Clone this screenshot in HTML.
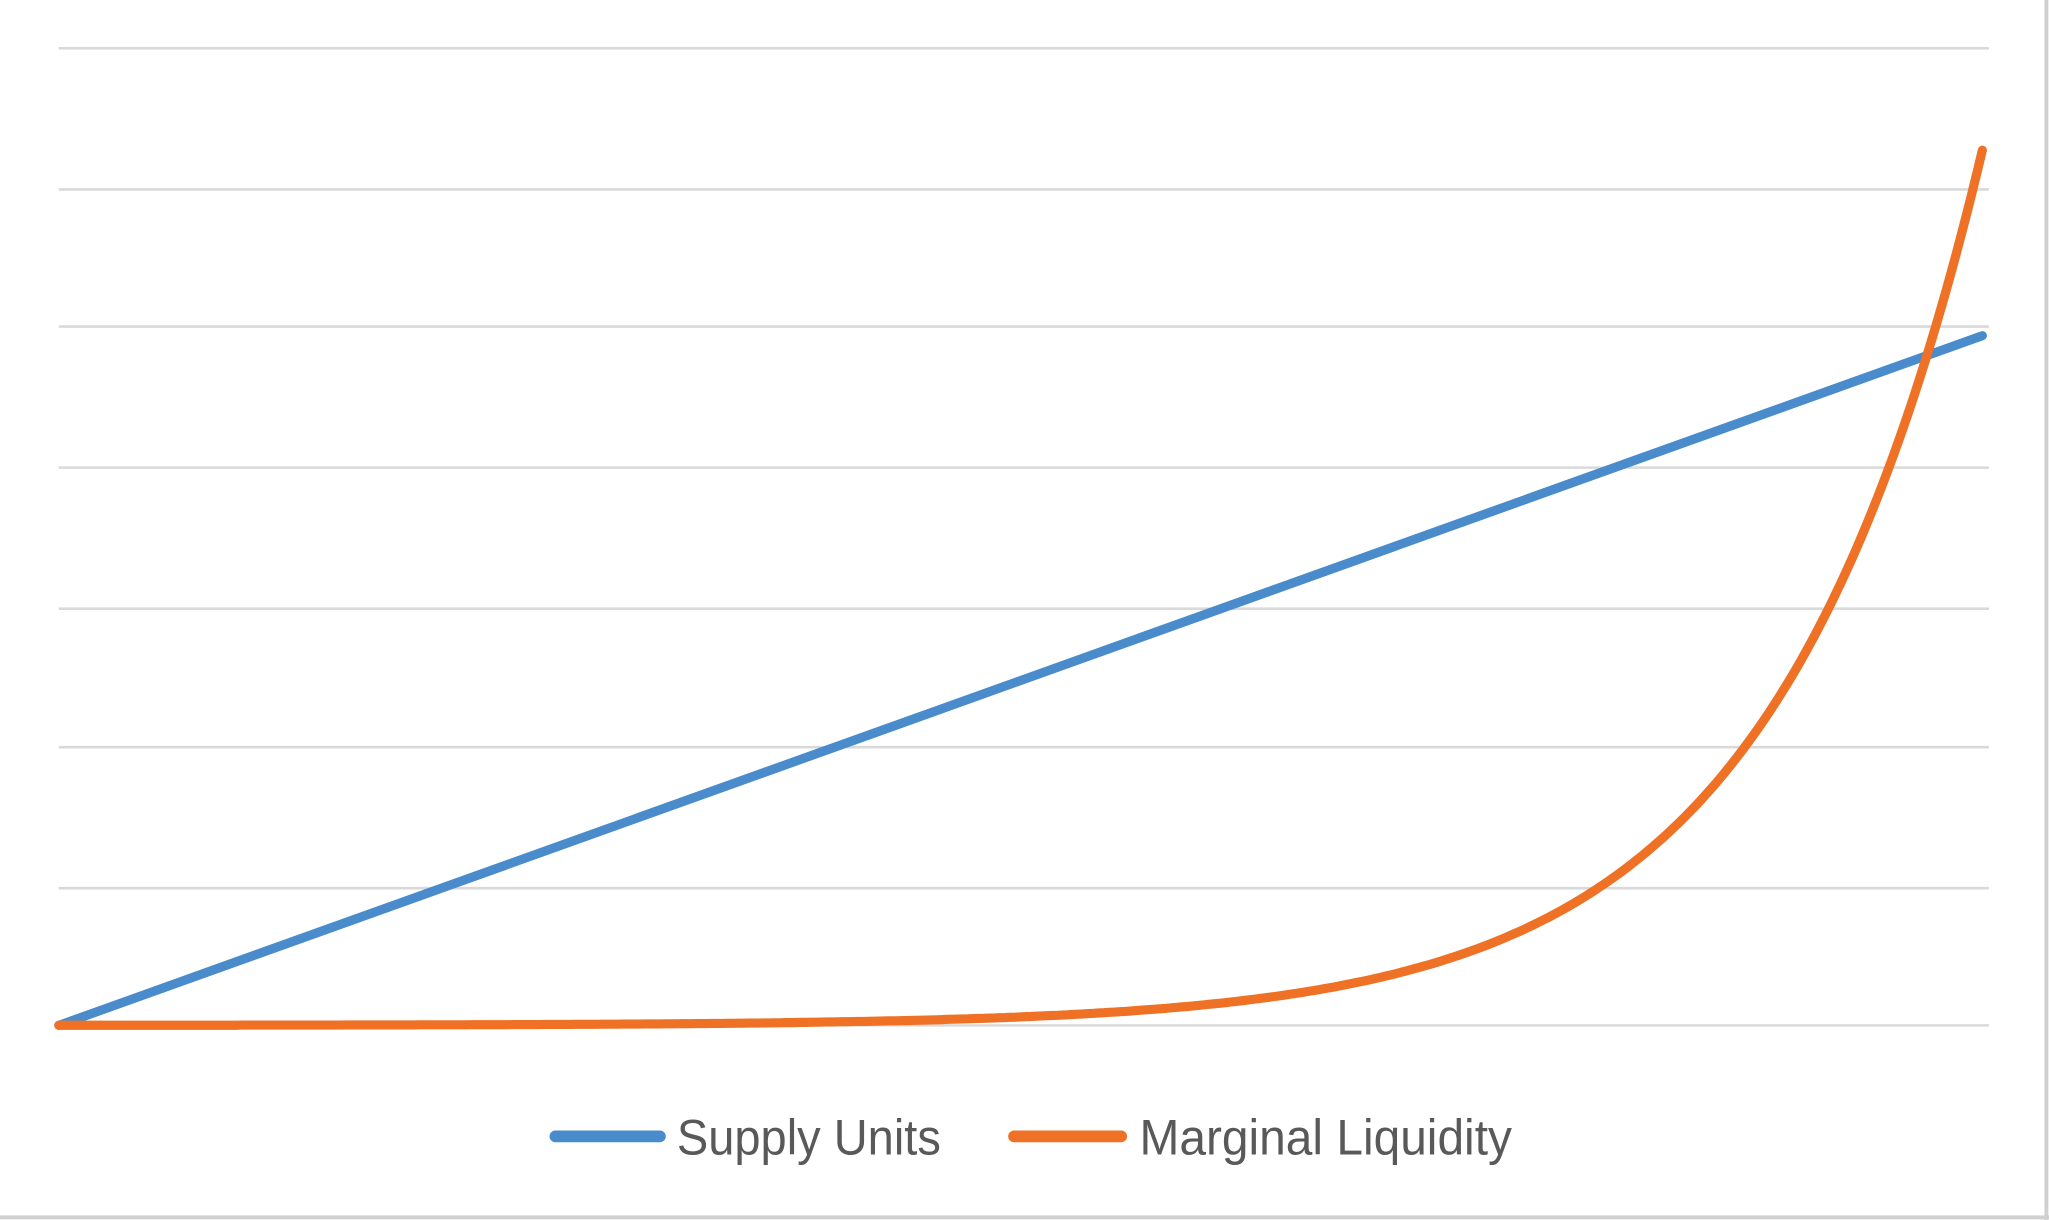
<!DOCTYPE html>
<html><head><meta charset="utf-8"><style>
html,body{margin:0;padding:0;background:#fff;}
svg{display:block;}
</style></head><body>
<svg width="2049" height="1220" viewBox="0 0 1568 934" preserveAspectRatio="none" xmlns="http://www.w3.org/2000/svg">
<rect x="0" y="0" width="1568" height="934" fill="#fff"/>
<g stroke="#d9d9d9" stroke-width="2">
<line x1="45" y1="37" x2="1522" y2="37"/>
<line x1="45" y1="145" x2="1522" y2="145"/>
<line x1="45" y1="250" x2="1522" y2="250"/>
<line x1="45" y1="358" x2="1522" y2="358"/>
<line x1="45" y1="466" x2="1522" y2="466"/>
<line x1="45" y1="572" x2="1522" y2="572"/>
<line x1="45" y1="680" x2="1522" y2="680"/>
<line x1="45" y1="785" x2="1522" y2="785"/>
</g>
<line x1="0" y1="932" x2="1568" y2="932" stroke="#d0d0d0" stroke-width="3"/>
<line x1="1566" y1="0" x2="1566" y2="934" stroke="#d0d0d0" stroke-width="3"/>
<polyline fill="none" stroke="#4a8ccb" stroke-width="7" stroke-linecap="round" points="45,785 1517,257"/>
<polyline id="org" fill="none" stroke="#ee7126" stroke-width="7" stroke-linecap="round" stroke-linejoin="round" points=""/>
<line x1="425" y1="870" x2="505" y2="870" stroke="#4a8ccb" stroke-width="9" stroke-linecap="round"/>
<text x="518" y="884" font-family="Liberation Sans, sans-serif" font-size="38" fill="#595959" textLength="202" lengthAdjust="spacingAndGlyphs">Supply Units</text>
<line x1="776" y1="870" x2="858" y2="870" stroke="#ee7126" stroke-width="9" stroke-linecap="round"/>
<text x="872" y="884" font-family="Liberation Sans, sans-serif" font-size="38" fill="#595959" textLength="285" lengthAdjust="spacingAndGlyphs">Marginal Liquidity</text>
<script>
var p=[];for(var x=45;x<=1517;x+=4){var y=785-670*Math.exp(0.0063*(x-1517));p.push(x+","+y.toFixed(1));}
p.push("1517,115");
document.getElementById("org").setAttribute("points",p.join(" "));
</script>
</svg>
</body></html>
